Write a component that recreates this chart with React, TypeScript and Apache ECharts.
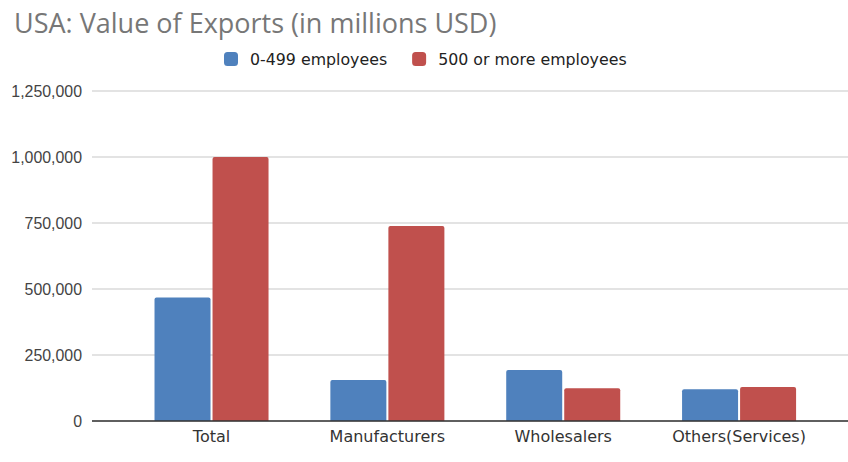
import React, { useEffect, useRef } from "react";
import * as echarts from "echarts";

const categories = ["Total", "Manufacturers", "Wholesalers", "Others(Services)"];
const smallFirms = [468000, 155000, 193000, 120000];
const largeFirms = [1000000, 739000, 124000, 129000];
const seriesNames = ["0-499 employees", "500 or more employees"];
const yTicks = { min: 0, max: 1250000, interval: 250000 };

export default function App() {
  const ref = useRef<HTMLDivElement>(null);
  useEffect(() => {
    if (!ref.current) return;
    const chart = echarts.init(ref.current, null, { renderer: "svg" });
    const top = 91;
    const bottom = 41;
    chart.setOption({
      animation: false,
      backgroundColor: "#ffffff",
      title: {
        text: "USA: Value of Exports (in millions USD)",
        left: 9,
        top: 4,
        textStyle: {
          fontFamily: "Open Sans",
          fontSize: 27,
          fontWeight: "normal",
          color: "#777777",
        },
      },
      legend: {
        left: 219,
        top: 46,
        itemWidth: 14,
        itemHeight: 14,
        itemGap: 25,
        icon: "roundRect",
        textStyle: {
          fontFamily: "DejaVu Sans",
          fontSize: 15.8,
          color: "#222222",
          padding: [0, 0, 0, 7],
        },
        data: seriesNames,
      },
      grid: [
        { left: 92, right: -14, top, bottom },
        { left: 123.6, right: 21, top, bottom },
      ],
      xAxis: [
        {
          type: "value",
          gridIndex: 0,
          show: true,
          min: 0,
          max: 1,
          axisLine: { show: false },
          axisTick: { show: false },
          axisLabel: { show: false },
          splitLine: { show: false },
        },
        {
          type: "category",
          gridIndex: 1,
          data: categories,
          axisLine: { show: false },
          axisTick: { show: false },
          axisLabel: {
            interval: 0,
            fontFamily: "DejaVu Sans",
            fontSize: 16,
            color: "#333333",
            margin: 7,
          },
        },
      ],
      yAxis: [
        {
          type: "value",
          gridIndex: 0,
          min: yTicks.min,
          max: yTicks.max,
          interval: yTicks.interval,
          axisLine: { show: false },
          axisTick: { show: false },
          axisLabel: {
            fontFamily: "Liberation Sans",
            fontSize: 15.9,
            color: "#444444",
            margin: 10,
            formatter: (v: number) => v.toLocaleString("en-US"),
          },
          splitLine: { lineStyle: { color: "#dadada", width: 1.5 } },
        },
        {
          type: "value",
          gridIndex: 1,
          min: yTicks.min,
          max: yTicks.max,
          interval: yTicks.interval,
          show: false,
          splitLine: { show: false },
        },
      ],
      series: [
        {
          name: seriesNames[0],
          type: "bar",
          xAxisIndex: 1,
          yAxisIndex: 1,
          data: smallFirms,
          barWidth: 56,
          barGap: "3.6%",
          itemStyle: { color: "#4F81BD", borderRadius: [2, 2, 0, 0] },
        },
        {
          name: seriesNames[1],
          type: "bar",
          xAxisIndex: 1,
          yAxisIndex: 1,
          data: largeFirms,
          barWidth: 56,
          barGap: "3.6%",
          itemStyle: { color: "#C0504D", borderRadius: [2, 2, 0, 0] },
        },
        {
          type: "line",
          xAxisIndex: 0,
          yAxisIndex: 0,
          data: [],
          silent: true,
          markLine: {
            silent: true,
            symbol: "none",
            label: { show: false },
            lineStyle: { color: "#333333", width: 1.5, type: "solid" },
            data: [[{ coord: [0, 0] }, { coord: [1, 0] }]],
          },
        },
      ],
    });
    return () => chart.dispose();
  }, []);
  return (
    <div
      ref={ref}
      style={{ position: "fixed", left: 0, top: 0, width: 848, height: 462 }}
    />
  );
}
